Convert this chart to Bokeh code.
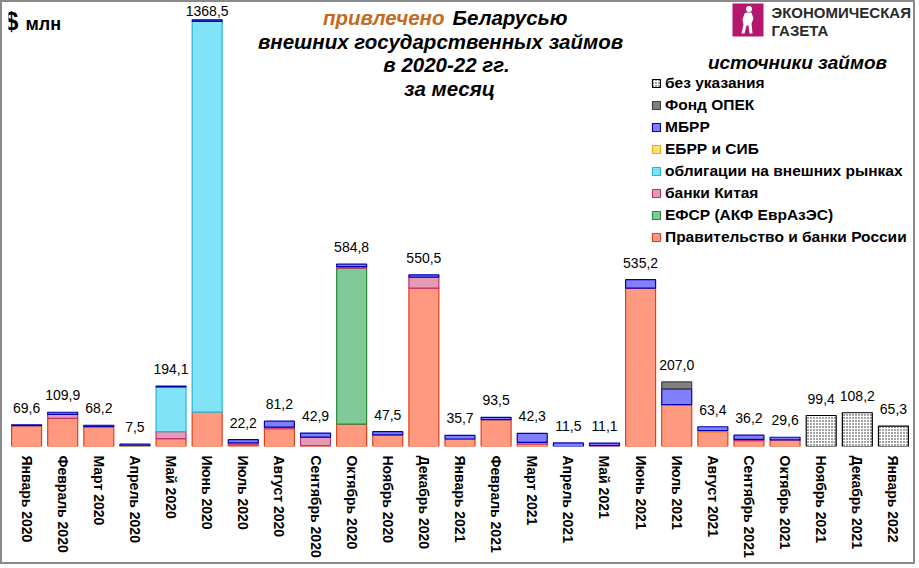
import numpy as np
from bokeh.plotting import figure
from bokeh.models import (FactorRange, Range1d, Legend, LegendItem, Label,
                          LabelSet, ColumnDataSource)
from bokeh.core.properties import value
from bokeh.embed import file_html
from bokeh.resources import INLINE

months = ["Январь 2020", "Февраль 2020", "Март 2020", "Апрель 2020", "Май 2020",
          "Июнь 2020", "Июль 2020", "Август  2020", "Сентябрь 2020", "Октябрь 2020",
          "Ноябрь 2020", "Декабрь 2020", "Январь 2021", "Февраль 2021", "Март 2021",
          "Апрель 2021", "Май 2021", "Июнь 2021", "Июль 2021", "Август  2021",
          "Сентябрь 2021", "Октябрь 2021", "Ноябрь 2021", "Декабрь 2021", "Январь 2022"]

russia = [66.5, 90.0, 64.0, 0, 25.0, 110.0, 5.5, 57.0, 2.5, 72.0, 37.0, 508.0,
          24.0, 86.5, 8.0, 0, 0, 508.0, 134.0, 48.0, 19.0, 21.0, 0, 0, 0]
efsr = [0, 0, 0, 0, 0, 0, 0, 0, 0, 500.0, 0, 0,
        0, 0, 0, 0, 0, 0, 0, 0, 0, 0, 0, 0, 0]
china = [0, 13.0, 0, 0, 23.0, 0, 6.4, 5.0, 27.5, 5.0, 0, 35.0,
         0, 0, 5.0, 0, 3.0, 0, 0, 0, 4.0, 0, 0, 0, 0]
bonds = [0, 0, 0, 0, 143.0, 1253.5, 0, 0, 0, 0, 0, 0,
         0, 0, 0, 0, 0, 0, 0, 0, 0, 0, 0, 0, 0]
ebrd = [0, 0, 0, 2.0, 0, 0, 0, 0, 0, 0, 0, 0,
        0, 0, 0, 0, 0, 0, 0, 3.0, 0, 0, 0, 0, 0]
ibrd = [3.1, 6.9, 4.2, 5.5, 3.1, 5.0, 10.3, 19.2, 12.9, 7.8, 10.5, 7.5,
        11.7, 7.0, 29.3, 11.5, 8.1, 27.2, 51.0, 12.4, 13.2, 8.6, 0, 0, 0]
opec = [0, 0, 0, 0, 0, 0, 0, 0, 0, 0, 0, 0,
        0, 0, 0, 0, 0, 0, 22.0, 0, 0, 0, 0, 0, 0]
unspecified = [0, 0, 0, 0, 0, 0, 0, 0, 0, 0, 0, 0,
               0, 0, 0, 0, 0, 0, 0, 0, 0, 0, 99.4, 108.2, 65.3]

series_names = ["Правительство и банки России", "ЕФСР (АКФ ЕврАзЭС)", "банки Китая",
                "облигации на внешних рынках", "ЕБРР и СИБ", "МБРР", "Фонд ОПЕК",
                "без указания"]
series_values = [russia, efsr, china, bonds, ebrd, ibrd, opec, unspecified]
fills = ["#FF9A80", "#80CA98", "#E69AB4", "#80E3F8", "#FFE070", "#8080FF", "#808080", "#FFFFFF"]
lines = ["#E0401C", "#2A8A3C", "#C03070", "#28B4D8", "#E8B000", "#0000B0", "#404040", "#000000"]

FONT = "Arial"
W, H = 915, 564
FL, FR, FT, FB = 8, 911, 2, 446          # frame edges in page pixels
Y_END = 1424.0
STEP = (FR - FL) / len(months)
YS = Y_END / (FB - FT)


def dx(ax):
    return (ax - FL) / STEP


def dy(ay):
    return (FB - ay) * YS


p = figure(x_range=FactorRange(factors=months, range_padding=0, factor_padding=0),
           y_range=Range1d(0, Y_END), width=W, height=H,
           output_backend="svg", toolbar_location=None,
           min_border_left=FL - 2, min_border_right=W + 2 - FR,
           min_border_top=FT - 2, min_border_bottom=H + 2 - FB)
p.styles = {"border": "2px solid #8a8a8a"}
p.yaxis.visible = False
p.xgrid.grid_line_color = None
p.ygrid.grid_line_color = None
p.outline_line_color = None
p.background_fill_color = "white"
p.border_fill_color = "white"

ax = p.xaxis[0]
ax.major_label_orientation = "vertical"
ax.major_label_text_font = FONT
ax.major_label_text_font_size = "14px"
ax.major_label_text_font_style = "bold"
ax.major_label_text_color = "black"
ax.axis_line_color = None
ax.major_tick_line_color = None
ax.minor_tick_line_color = None
ax.major_tick_out = 0
ax.major_tick_in = 0
ax.minor_tick_out = 0
ax.major_label_standoff = 9

bottom = np.zeros(len(months))
renderers = []
for name, vals, fc, lc in zip(series_names, series_values, fills, lines):
    v = np.array(vals, dtype=float)
    top = bottom + v
    mask = v > 0
    src = ColumnDataSource(dict(x=[m for m, k in zip(months, mask) if k],
                                bottom=bottom[mask], top=top[mask]))
    kw = {}
    if name == "без указания":
        kw = dict(hatch_pattern="dot", hatch_scale=3, hatch_color="black",
                  hatch_weight=0.6, hatch_alpha=0.9)
    r = p.vbar(x="x", bottom="bottom", top="top", width=0.83, fill_color=fc,
               line_color=lc, line_width=1.2, source=src, **kw)
    renderers.append((name, r))
    bottom = top

totals = bottom
labels = [f"{t:.1f}".replace(".", ",") for t in totals]
offsets = [4 if t > 0.9 * Y_END else 12 for t in totals]
lab_src = ColumnDataSource(dict(x=months, y=totals, text=labels, off=offsets))
p.add_layout(LabelSet(x="x", y="y", text="text", y_offset="off", source=lab_src,
                      text_align="center", text_baseline="alphabetic",
                      text_font=value(FONT), text_font_size=value("14px"),
                      text_color="black"))

items = [LegendItem(label=n, renderers=[r]) for n, r in reversed(renderers)]
legend = Legend(items=items, location=(651 - FL, FB - 247), padding=0, margin=0,
                spacing=2, label_height=20, glyph_width=10, glyph_height=10,
                label_standoff=4, label_text_font=FONT,
                label_text_font_size="15.5px", label_text_font_style="bold",
                label_text_color="black", border_line_color=None,
                background_fill_alpha=0)
p.add_layout(legend)


def lab(x, y, text, size, style="bold", align="left", color="black", font=FONT):
    p.add_layout(Label(x=dx(x), y=dy(y), text=text, text_align=align,
                       text_baseline="middle", text_font=font,
                       text_font_size=size, text_font_style=style, text_color=color))


lab(797, 62, "источники займов", "19px", "bold italic", "center")
lab(444, 17, "привлечено", "20.5px", "bold italic", "right", "#C46A1E")
lab(452, 17, "Беларусью", "20.5px", "bold italic", "left")
lab(440, 41, "внешних государственных займов", "20.5px", "bold italic", "center")
lab(446, 64, "в 2020-22 гг.", "20.5px", "bold italic", "center")
lab(449, 88, "за месяц", "20.5px", "bold italic", "center")
lab(4, 20, "$", "25px", "bold")
lab(25, 23, "млн", "18px", "bold")

# logo
p.quad(left=dx(732), right=dx(763), top=dy(3), bottom=dy(36),
       fill_color="#B3186E", line_color=None)
fig_x = [746, 751, 753, 751, 752, 749, 748, 746, 744, 741, 743, 742, 744]
fig_y = [12, 12, 18, 23, 33, 33, 25, 25, 33, 33, 24, 19, 13]
p.patch([dx(v) for v in fig_x], [dy(v) for v in fig_y], fill_color="white", line_color=None)
p.scatter([dx(748.5)], [dy(8.5)], size=6, fill_color="white", line_color=None)
lab(771, 12, "ЭКОНОМИЧЕСКАЯ", "15px", "bold", "left", "#2a2a2a")
lab(771, 30, "ГАЗЕТА", "15px", "bold", "left", "#2a2a2a")

open("out.html", "w").write(file_html(p, INLINE))
